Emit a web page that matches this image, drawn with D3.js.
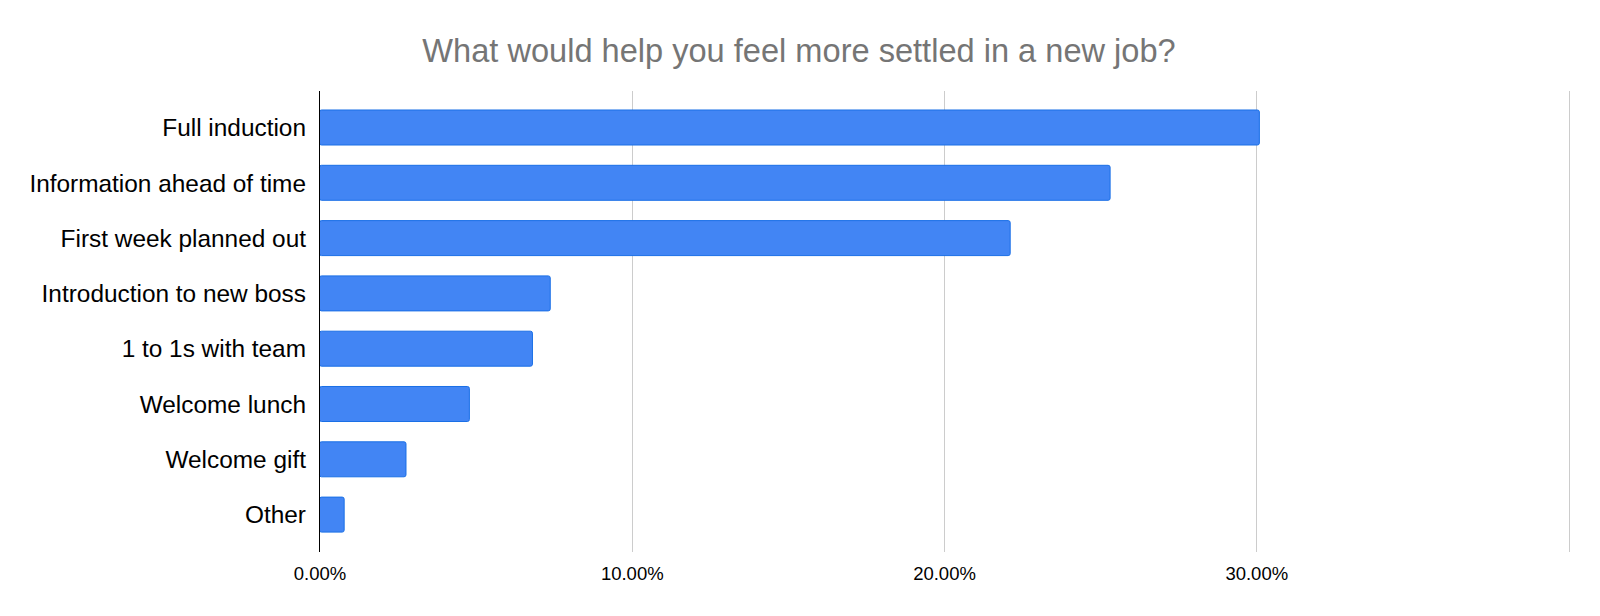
<!DOCTYPE html>
<html>
<head>
<meta charset="utf-8">
<script src="https://cdn.jsdelivr.net/npm/d3@7"></script>
<style>
  html, body { margin: 0; padding: 0; background: #fff; }
  svg { display: block; font-family: "Liberation Sans", Arial, sans-serif; }
</style>
</head>
<body>
<svg id="chart" width="1600" height="616"></svg>
<script>
const title = "What would help you feel more settled in a new job?";
const categories = ["Full induction", "Information ahead of time", "First week planned out",
  "Introduction to new boss", "1 to 1s with team", "Welcome lunch", "Welcome gift", "Other"];
const values = [0.301, 0.2532, 0.2212, 0.0739, 0.0682, 0.048, 0.0277, 0.0079];
const xTicks = [0, 0.1, 0.2, 0.3, 0.4];

const svg = d3.select("#chart");
const x = d3.scaleLinear().domain([0, 0.4]).range([319.5, 1568.5]);
const y = d3.scaleBand().domain(categories).range([99.85, 542.25]).paddingInner(0.349).paddingOuter(0.1745);

// title
svg.append("text").attr("x", 799).attr("y", 61.5).attr("text-anchor", "middle")
  .attr("font-size", 32.6).attr("fill", "#757575").text(title);

// gridlines
svg.append("g").selectAll("line").data(xTicks.filter(d => d > 0)).join("line")
  .attr("x1", d => Math.round(x(d)) + 0.5).attr("x2", d => Math.round(x(d)) + 0.5)
  .attr("y1", 91).attr("y2", 552).attr("stroke", "#cccccc").attr("stroke-width", 1);

// bars
svg.append("g").selectAll("rect").data(values).join("rect")
  .attr("x", x(0)).attr("y", (d, i) => y(categories[i]) + 0.5)
  .attr("width", d => x(d) - x(0)).attr("height", y.bandwidth() - 1)
  .attr("rx", 2).attr("ry", 2)
  .attr("fill", "#4285f4").attr("stroke", "#1a6fe6").attr("stroke-width", 1);

// baseline axis
svg.append("line").attr("x1", 319.5).attr("x2", 319.5).attr("y1", 91).attr("y2", 552)
  .attr("stroke", "#000").attr("stroke-width", 1);

// y labels
const yAxis = d3.axisLeft(y).tickSize(0).tickPadding(13.5);
const gy = svg.append("g").attr("transform", "translate(319.5,0)").call(yAxis);
gy.select(".domain").remove();
gy.selectAll("text").attr("font-size", 24.4).attr("fill", "#000")
  .attr("font-family", "'Liberation Sans', Arial, sans-serif").attr("dy", "0.36em");

// x labels
const xAxis = d3.axisBottom(x).tickValues(xTicks.slice(0, 4)).tickSize(0).tickPadding(0)
  .tickFormat(d3.format(".2%"));
const gx = svg.append("g").attr("transform", "translate(0,580)").call(xAxis);
gx.select(".domain").remove();
gx.selectAll("text").attr("font-size", 18.5).attr("fill", "#000").attr("dy", 0)
  .attr("font-family", "'Liberation Sans', Arial, sans-serif");
</script>
</body>
</html>
